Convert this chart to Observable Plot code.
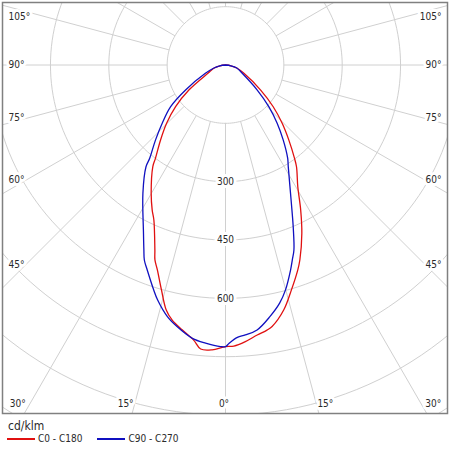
<!DOCTYPE html>
<html><head><meta charset="utf-8">
<script src="https://cdn.jsdelivr.net/npm/d3@7"></script>
<script src="https://cdn.jsdelivr.net/npm/@observablehq/plot@0.6"></script>
<style>
body{margin:0;background:#fff;font-family:"DejaVu Sans Condensed","DejaVu Sans",sans-serif;color:#2a2a2a}
#chart svg{display:block}
.unit{font-size:12px;line-height:14px;margin:4px 0 0 8px}
.leg{display:flex;align-items:center;font-size:10px;line-height:12px;height:12px}
.sw{display:inline-block;width:28px;height:1.3px}
</style></head><body>
<div id="chart"></div>
<div class="unit">cd/klm</div>
<div class="leg"><span class="sw" style="margin-left:7px;background:#e01010"></span><span style="margin-left:3px">C0 - C180</span><span class="sw" style="margin-left:15px;background:#1010c0"></span><span style="margin-left:3px">C90 - C270</span></div>
<script>
// C0 half-plane (right, red)
const c0Gamma = [0, 1.7, 4.1, 6.7, 8.9, 10.1, 13.4, 16.3, 19.4, 20.9, 24.4, 27.4, 30.7, 34.9, 36.5, 40.2, 44.2, 48.8, 54.5, 65.6, 75, 82, 90];
const c0I     = [724, 723, 713, 699, 690, 683, 647, 603, 559, 536, 475, 420, 364, 319, 298, 252, 209, 163, 111, 52, 30, 14, 0];
// C180 half-plane (left, red)
const c180Gamma = [0, 2.7, 5.0, 6.6, 9.3, 11.8, 13.6, 15.9, 18.4, 19.9, 20.9, 24.8, 26.8, 30.1, 35.6, 36.9, 40.9, 45.3, 50.2, 55.7, 64.9, 75, 82, 90];
const c180I     = [724, 733, 733, 712, 690, 670, 648, 601, 555, 533, 509, 439, 418, 381, 321, 300, 255, 213, 167, 114, 50, 30, 14, 0];
// C90 half-plane (right, blue)
const c90Gamma = [0, 0.7, 2.5, 4.2, 6.8, 10.0, 12.8, 14.9, 17.6, 18.9, 20.3, 22.7, 25.9, 31.7, 33.7, 37.6, 41.6, 46.1, 51.7, 63.6, 75, 82, 90];
const c90I     = [724, 716, 701, 696, 686, 657, 628, 599, 553, 530, 507, 451, 386, 307, 288, 243, 200, 155, 104, 48, 30, 14, 0];
// C270 half-plane (left, blue)
const c270Gamma = [0, 1, 4.1, 6.9, 10.5, 13, 16.1, 17.7, 20.9, 22.6, 23.8, 26, 32.8, 38, 39.1, 43, 47.4, 52.8, 58, 67.5, 75, 82, 90];
const c270I     = [724, 724, 717, 708, 684, 664, 629, 607, 564, 543, 520, 481, 392, 332, 309, 264, 221, 177, 121, 56, 32, 15, 0];

const ringValues = [150, 300, 450, 600, 750, 900, 1050, 1200];
const ringLabels = [300, 450, 600];
const spokeAngles = d3.range(0, 181, 15);
const angleLabels = [0, 15, 30, 45, 60, 75, 90, 105];

const xDomain = [-573.3, 570.7];
const yDomain = [-896, 160.7];
const W = 450, H = 415, mL = 2, mR = 3, mT = 2, mB = 2;
const u = (yDomain[1] - yDomain[0]) / (H - mT - mB); // data units per pixel

const rad = g => g * Math.PI / 180;
const half = (gam, I, side) => gam.map((g, i) => ({x: side * I[i] * Math.sin(rad(g)), y: -I[i] * Math.cos(rad(g))}));
const redPts = half(c180Gamma, c180I, -1).reverse().concat(half(c0Gamma, c0I, 1).slice(1));
const bluePts = half(c270Gamma, c270I, -1).reverse().concat(half(c90Gamma, c90I, 1).slice(1));

const ringPts = ringValues.flatMap(r => d3.range(0, 361, 2).map(a => ({r, x: r * Math.sin(rad(a)), y: -r * Math.cos(rad(a))})));
const spokes = spokeAngles.flatMap(g => [-1, 1].map(s => ({
  x1: s * 150 * Math.sin(rad(g)), y1: -150 * Math.cos(rad(g)),
  x2: s * 1500 * Math.sin(rad(g)), y2: -1500 * Math.cos(rad(g))
})));

const labs = [];
for (const g of angleLabels) {
  for (const s of (g === 0 ? [1] : [-1, 1])) {
    const dx = s * Math.sin(rad(g)), dy = -Math.cos(rad(g));
    let bottom = false;
    if (dy < -1e-6) {
      const t = yDomain[0] / dy, hx = dx * t;
      if (hx > xDomain[0] && hx < xDomain[1]) {
        bottom = true;
        labs.push({text: g + "°", x: hx - s * 1.5 * u, y: yDomain[0] + 10 * u, anchor: g === 0 ? "middle" : (s < 0 ? "end" : "start")});
      }
    }
    if (!bottom) {
      let y = dy / Math.abs(dx) * 205 * u + (90 - g) / 9 * u;
      y = Math.min(y, yDomain[1] - 14 * u);
      labs.push({text: g + "°", x: s < 0 ? xDomain[0] + 6 * u : xDomain[1] - 6 * u, y, anchor: s < 0 ? "start" : "end"});
    }
  }
}

const grid = "#d0d0d0";
const ink = "#2a2a2a";
const textOpts = {x: "x", y: "y", text: "text", fill: ink, stroke: "white", strokeWidth: 6, paintOrder: "stroke", fontSize: 10};

const chart = Plot.plot({
  width: W, height: H, marginLeft: mL, marginRight: mR, marginTop: mT, marginBottom: mB,
  x: {domain: xDomain, axis: null},
  y: {domain: yDomain, axis: null},
  style: {fontFamily: '"DejaVu Sans Condensed","DejaVu Sans",sans-serif', background: "white"},
  marks: [
    Plot.line(ringPts, {x: "x", y: "y", z: "r", stroke: grid, strokeWidth: 1, clip: true}),
    Plot.link(spokes, {x1: "x1", y1: "y1", x2: "x2", y2: "y2", stroke: grid, strokeWidth: 1, clip: true}),
    Plot.text(ringLabels, {x: () => 0, y: d => -d, text: d => String(d), fill: ink, stroke: "white", strokeWidth: 6, paintOrder: "stroke", fontSize: 10}),
    Plot.text(labs.filter(d => d.anchor === "start"), {...textOpts, textAnchor: "start"}),
    Plot.text(labs.filter(d => d.anchor === "end"), {...textOpts, textAnchor: "end"}),
    Plot.text(labs.filter(d => d.anchor === "middle"), {...textOpts, textAnchor: "middle"}),
    Plot.line(redPts, {x: "x", y: "y", stroke: "#e01010", strokeWidth: 1.3, curve: "catmull-rom"}),
    Plot.line(bluePts, {x: "x", y: "y", stroke: "#1010c0", strokeWidth: 1.3, curve: "catmull-rom"}),
    Plot.frame({stroke: "#808080", strokeWidth: 1.5})
  ]
});
document.getElementById("chart").appendChild(chart);
</script>
</body></html>
